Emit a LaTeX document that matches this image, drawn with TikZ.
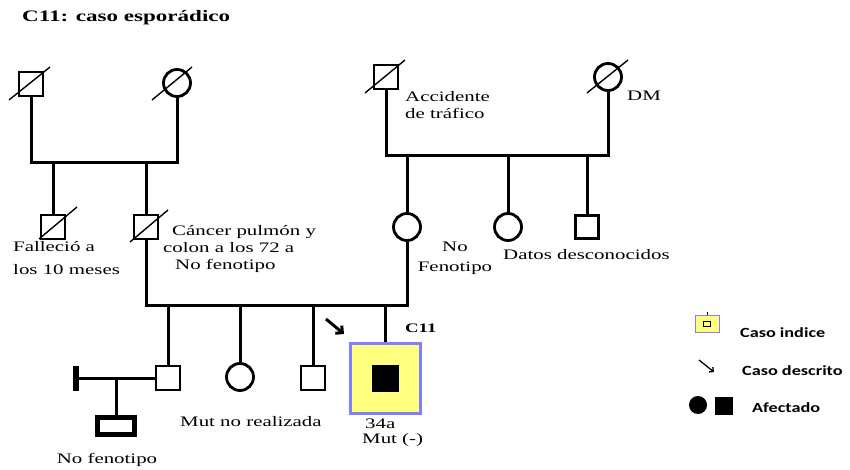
\documentclass[tikz,border=0pt]{standalone}
\usepackage{fontspec}
\setmainfont{Liberation Serif}[FakeStretch=1.44]
\newfontfamily\legendfont{Carlito}[FakeStretch=1.3]
\usetikzlibrary{arrows.meta}

\definecolor{Index}{HTML}{FFFF80}
\definecolor{IndexBorder}{HTML}{8080FF}

\begin{document}
\begin{tikzpicture}[x=1pt, y=-1pt,
  male/.style={draw, line width=2.8, minimum size=24, inner sep=0, fill=white},
  female/.style={circle, draw, line width=2.8, minimum size=27, inner sep=0, fill=white},
  line/.style={line width=3},
  slash/.style={line width=1.4},
  txt/.style={inner sep=0, font=\fontsize{14.5}{17}\selectfont},
  key/.style={inner sep=0, anchor=west, font=\legendfont\bfseries\fontsize{14}{15}\selectfont}]

 \useasboundingbox (0,0) rectangle (850,470);

 \node[anchor=west, inner sep=0, font=\bfseries\fontsize{16}{18}\selectfont] (title) at (22,18) {C11: caso esporádico};

 %%%%%%%%%% Generacion I %%%%%%%%%%
 \coordinate (u1) at (104,163) ;
 \coordinate (u2) at (497,156) ;

 \node[male] (gf1) at (31,84) {};
 \node[female] (gm1) at (177,83) {};
 \node[male] (gf2) at (386,77) {};
 \node[female] (gm2) at (608,77) {};

 \draw [line] (gf1.south) |- (u1) -| (gm1.south) ;
 \draw [line] (gf2.south) |- (u2) -| (gm2.south) ;

 \draw [slash] ([shift={(-22,16)}]gf1.center) -- ([shift={(19,-17)}]gf1.center) ;
 \draw [slash] ([shift={(-25,17)}]gm1.center) -- ([shift={(15,-16)}]gm1.center) ;
 \draw [slash] ([shift={(-21,16)}]gf2.center) -- ([shift={(19,-17)}]gf2.center) ;
 \draw [slash] ([shift={(-21,16)}]gm2.center) -- ([shift={(20,-17)}]gm2.center) ;

 \node[txt, anchor=west, align=left] (accid) at (405,105) {Accidente\\de tráfico};
 \node[txt, anchor=west] (dm) at (627,96) {DM};

 %%%%%%%%%% Generacion II %%%%%%%%%%
 \coordinate (u3) at (276,305) ;

 \node[male] (uncle) at (53,227) {};
 \node[male] (father) at (146,227) {};
 \node[female] (mother) at (407,227) {};
 \node[female] (aunt) at (508,227) {};
 \node[male, minimum size=23] (uncle2) at (587,227) {};

 \draw [line] (uncle.north) -- (uncle.north |- u1) ;
 \draw [line] (father.north) -- (father.north |- u1) ;
 \draw [line] (mother.north) -- (mother.north |- u2) ;
 \draw [line] (aunt.north) -- (aunt.north |- u2) ;
 \draw [line] (uncle2.north) -- (uncle2.north |- u2) ;

 \draw [line] (father.south) |- (u3) -| (mother.south) ;

 \draw [slash] ([shift={(-14,12)}]uncle.center) -- ([shift={(24,-20)}]uncle.center) ;
 \draw [slash] ([shift={(-16,15)}]father.center) -- ([shift={(22,-17)}]father.center) ;

 \node[txt, anchor=west, align=left, font=\fontsize{14.5}{23}\selectfont] (died) at (13,258) {Falleció a\\los 10 meses};
 \node[txt, anchor=west, align=left] (cancer) at (163,249) {\hspace{9pt}Cáncer pulmón y\\colon a los 72 a\\\hspace{12pt}No fenotipo};
 \node[txt, align=center, font=\fontsize{14.5}{20}\selectfont] (nofen) at (455,258) {No\\Fenotipo};
 \node[txt, anchor=west] (datos) at (503,255) {Datos desconocidos};

 %%%%%%%%%% Generacion III %%%%%%%%%%
 \node[male] (sib1) at (168,378) {};
 \node[female] (sib2) at (240,377) {};
 \node[male] (sib3) at (313,378) {};
 \node[draw=IndexBorder, fill=Index, line width=3, minimum size=70, inner sep=0] (prob) at (385,378) {};
 \node[fill=black, minimum size=27, inner sep=0] (probA) at (385,378) {};

 \draw [line] (sib1.north) -- (sib1.north |- u3) ;
 \draw [line] (sib2.north) -- (sib2.north |- u3) ;
 \draw [line] (sib3.north) -- (sib3.north |- u3) ;
 \draw [line] (prob.north) -- (prob.north |- u3) ;

 \draw [line, -{Straight Barb[length=5pt, width=10pt]}] (326,319) -- (344,334) ;
 \node[anchor=west, inner sep=0, font=\bfseries\fontsize{13}{15}\selectfont] (c11) at (405,328) {C11};

 \node[txt, anchor=west] (mutnr) at (180,422) {Mut no realizada};
 \node[txt, anchor=west, align=left, font=\fontsize{14.5}{15}\selectfont] (mut) at (362,433) {\hspace{3pt}34a\\Mut (-)};

 %%%%%%%%%% Pareja y sobrina %%%%%%%%%%
 \coordinate (u4) at (116,378) ;
 \node[fill=black, minimum width=6, minimum height=25, inner sep=0] (bar) at (76,378) {};
 \node[draw, line width=5, minimum width=37, minimum height=17, inner sep=0] (niece) at (116,426) {};
 \draw [line] (bar) -- (sib1.west) ;
 \draw [line] (u4) -- (niece.north) ;
 \node[txt] (nofen2) at (107,460) {No fenotipo};

 %%%%%%%%%% Leyenda %%%%%%%%%%
 \node[draw=IndexBorder, fill=Index, line width=1, minimum width=24, minimum height=17, inner sep=0] (keyA) at (707,324) {};
 \node[draw, line width=0.8, minimum width=7, minimum height=5, inner sep=0] (keyB) at (707,324) {};
 \draw [line width=0.8] (keyA.north) -- ++(0,-3) ;
 \node[key] (keyAt) at (740,333) {Caso indice};

 \draw [line width=1.3, -{Straight Barb[length=3pt, width=6pt]}] (699,360) -- (714,372) ;
 \node[key] (keyCt) at (742,371) {Caso descrito};

 \node[circle, fill=black, minimum size=18, inner sep=0] (keyD) at (698,405) {};
 \node[fill=black, minimum width=18, minimum height=18, inner sep=0] (keyE) at (724,406) {};
 \node[key] (keyEt) at (752,408) {Afectado};

\end{tikzpicture}
\end{document}
